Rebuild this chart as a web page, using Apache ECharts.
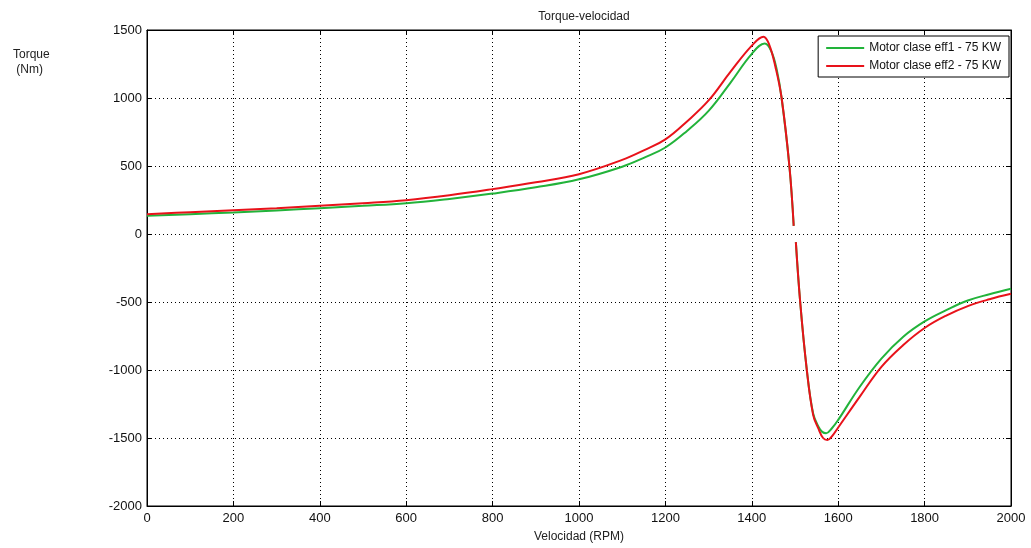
<!DOCTYPE html>
<html>
<head>
<meta charset="utf-8">
<title>Torque-velocidad</title>
<script src="https://cdn.jsdelivr.net/npm/echarts@6/dist/echarts.min.js"></script>
<style>
  html, body { margin: 0; padding: 0; background: #fff; }
  #main { width: 1031px; height: 548px; }
</style>
</head>
<body>
<div id="main"></div>
<script>
//数据: velocidad (RPM) y par (Nm)
var rpmEff1 = [0, 100, 200, 300, 400, 500, 600, 700, 800, 900, 1000, 1100, 1150, 1200, 1250, 1300, 1350, 1400, 1430, 1445, 1458, 1469, 1487, 1497, 1500, 1502, 1512, 1527, 1542, 1555, 1563, 1572, 1585, 1600, 1650, 1700, 1750, 1800, 1850, 1900, 1950, 2000];
var torqueEff1 = [134, 146, 158, 173, 190, 207, 226, 258, 297, 343, 402, 495, 560, 636, 758, 905, 1110, 1325, 1400, 1345, 1205, 1000, 500, 60, null, -60, -500, -990, -1320, -1420, -1455, -1465, -1430, -1367, -1123, -916, -757, -643, -560, -489, -443, -403];

var rpmEff2 = [0, 100, 200, 300, 400, 500, 600, 700, 800, 900, 1000, 1100, 1150, 1200, 1250, 1300, 1350, 1400, 1427, 1440, 1455, 1469, 1487, 1497, 1500, 1502, 1512, 1527, 1542, 1554, 1565, 1575, 1585, 1600, 1650, 1700, 1750, 1800, 1850, 1900, 1950, 2000];
var torqueEff2 = [146, 160, 175, 190, 207, 226, 249, 285, 330, 380, 440, 545, 615, 696, 828, 982, 1190, 1385, 1451, 1395, 1225, 1000, 500, 60, null, -60, -500, -990, -1330, -1430, -1500, -1515, -1490, -1423, -1196, -977, -818, -691, -600, -530, -480, -440];

var seriesNames = ['Motor clase eff1 - 75 KW', 'Motor clase eff2 - 75 KW'];

//把两个数组合成 [x, y]
function pairs(xs, ys) {
  var out = [];
  xs.forEach(function(val, key) {
    out.push([val, ys[key]]);
  });
  return out;
}

var font = 'Liberation Sans, Arial, sans-serif';
var plain = function(v) { return String(v); }; //不要千位分隔符

var chart = echarts.init(document.getElementById('main'));
chart.setOption({
  animation: false,
  backgroundColor: '#fff',
  title: {
    text: 'Torque-velocidad',
    left: 579,
    top: 6,
    textAlign: 'center',
    textStyle: {
      fontFamily: font,
      fontSize: 12,
      fontWeight: 'normal',
      color: '#222'
    }
  },
  graphic: [{
    type: 'text',
    left: 13,
    top: 47,
    style: {
      text: 'Torque\n (Nm)',
      fontFamily: font,
      fontSize: 12,
      lineHeight: 15,
      fill: '#222'
    }
  }],
  legend: {
    orient: 'vertical',
    right: 22,
    top: 36,
    data: seriesNames,
    icon: 'rect',
    itemWidth: 38,
    itemHeight: 2,
    itemGap: 6,
    padding: [6, 8, 5, 8],
    backgroundColor: '#fff',
    borderColor: '#000',
    borderWidth: 1,
    textStyle: {
      fontFamily: font,
      fontSize: 12,
      color: '#111'
    }
  },
  grid: { //绘图区
    left: 147,
    right: 20,
    top: 30,
    bottom: 40,
    show: true,
    borderColor: '#000',
    borderWidth: 1
  },
  xAxis: [{
    type: 'value',
    min: 0,
    max: 2000,
    interval: 200,
    name: 'Velocidad (RPM)',
    nameLocation: 'middle',
    nameGap: 25,
    nameTextStyle: {
      fontFamily: font,
      fontSize: 12,
      color: '#222'
    },
    axisLine: { onZero: false, lineStyle: { color: '#000', width: 1 } },
    axisTick: { inside: true, length: 5, lineStyle: { color: '#000' } },
    axisLabel: {
      margin: 6,
      formatter: plain,
      fontFamily: font,
      fontSize: 13,
      color: '#111'
    },
    splitLine: {
      show: true,
      lineStyle: { color: '#000', type: [1, 3], width: 1 }
    }
  }, {
    type: 'value',
    position: 'top',
    min: 0,
    max: 2000,
    interval: 200,
    axisLine: { show: true, onZero: false, lineStyle: { color: '#000' } },
    axisTick: { inside: true, length: 5, lineStyle: { color: '#000' } },
    axisLabel: { show: false },
    splitLine: { show: false }
  }],
  yAxis: [{
    type: 'value',
    min: -2000,
    max: 1500,
    interval: 500,
    axisLine: { show: true, onZero: false, lineStyle: { color: '#000', width: 1 } },
    axisTick: { show: true, inside: true, length: 5, lineStyle: { color: '#000' } },
    axisLabel: {
      margin: 5,
      formatter: plain,
      fontFamily: font,
      fontSize: 13,
      color: '#111'
    },
    splitLine: {
      show: true,
      lineStyle: { color: '#000', type: [1, 3], width: 1 }
    }
  }, {
    type: 'value',
    position: 'right',
    min: -2000,
    max: 1500,
    interval: 500,
    axisLine: { show: true, onZero: false, lineStyle: { color: '#000' } },
    axisTick: { show: true, inside: true, length: 5, lineStyle: { color: '#000' } },
    axisLabel: { show: false },
    splitLine: { show: false }
  }],
  series: [{
    name: seriesNames[0],
    type: 'line',
    smooth: 0.4,
    symbol: 'none',
    connectNulls: false,
    data: pairs(rpmEff1, torqueEff1),
    lineStyle: { color: '#22b33a', width: 2 },
    itemStyle: { color: '#22b33a' }
  }, {
    name: seriesNames[1],
    type: 'line',
    smooth: 0.4,
    symbol: 'none',
    connectNulls: false,
    data: pairs(rpmEff2, torqueEff2),
    lineStyle: { color: '#e8121a', width: 2 },
    itemStyle: { color: '#e8121a' }
  }]
});
</script>
</body>
</html>
